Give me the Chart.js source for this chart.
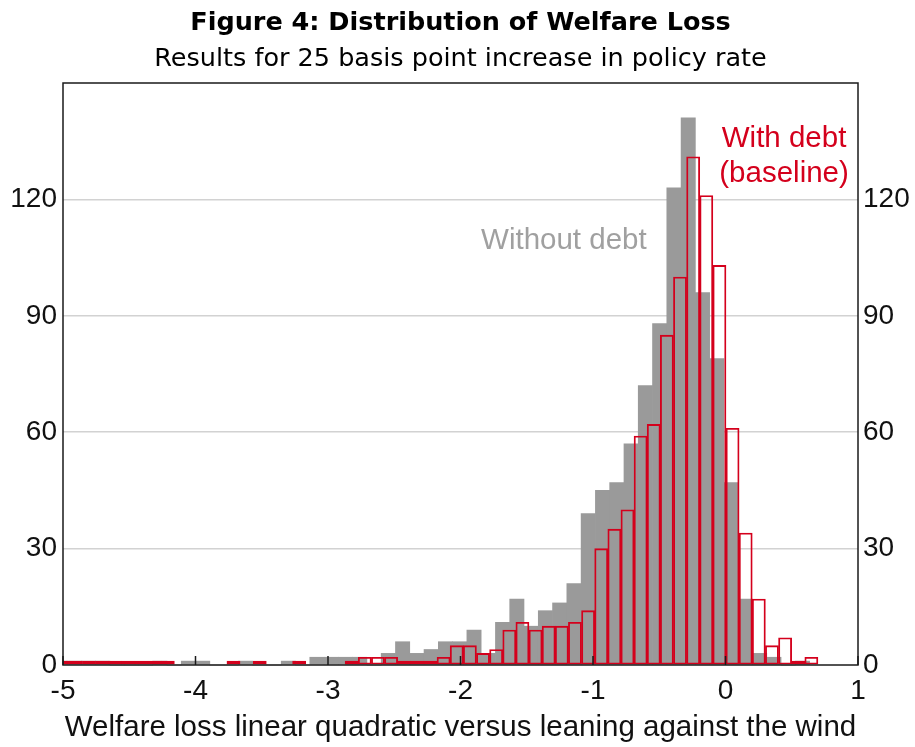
<!DOCTYPE html>
<html>
<head>
<meta charset="utf-8">
<title>Figure 4: Distribution of Welfare Loss</title>
<script src="https://cdn.jsdelivr.net/npm/chart.js@4.4.0/dist/chart.umd.min.js"></script>
<style>
  html, body { margin: 0; padding: 0; background: #fff; }
  #wrap { width: 915px; height: 747px; }
</style>
</head>
<body>
<div id="wrap"><canvas id="welfare-chart" width="915" height="747"></canvas></div>
<script>
'use strict';

// with debt (baseline) histogram: first bin left edge, bin width, counts
var withDebtStart = -5.0514;
var withDebtWidth = 0.09912;
var withDebtCounts = [1,1,1,1,1,1,1,1,1, 0,0,0,0, 1,0,1,0,0,1,0,0,0,
  1,2,2,2,1,1,1,2, 5,5,3,4,9,11,9,10,10,11,14,
  30,35,40,59,62,85,100,131,121,103, 61,34,17,5,7,1,2];

// without debt histogram
var withoutDebtStart = -5.0775;
var withoutDebtWidth = 0.10778;
var withoutDebtCounts = [1,1,1,1, 0,0,0, 1,0,1,1,0,0,1,0,0,1,0, 2,2,2,2, 0,
  3,6,3,4,6,6,9,3,11,17,10,14,16,21,39,45,47,57,72,88,123,141,96,79,47,17,3,2,0,1];

var xTicks = [-5, -4, -3, -2, -1, 0, 1];
var yTicks = [0, 30, 60, 90, 120];

var red = 'rgb(212, 0, 28)';
var grey = '#9a9a9a';
var armFont = "'Liberation Sans', Arial, sans-serif";

var notes = [
  { text: 'Without debt', x: -1.22, y: 109.3, color: '#a0a0a0' },
  { text: 'With debt', x: 0.442, y: 135.7, color: red },
  { text: '(baseline)', x: 0.442, y: 126.5, color: red }
];

function binPoints(start, width, counts) {
  var pts = [];
  for (var i = 0; i < counts.length; i++) {
    pts.push({ x: start + width * (i + 0.5), y: counts[i] });
  }
  return pts;
}

// plot frame, inward x tick marks and the series labels
var framePlugin = {
  id: 'frame',
  afterDatasetsDraw: function(chart) {
    var ctx = chart.ctx;
    var a = chart.chartArea;
    var xs = chart.scales.x;
    var ys = chart.scales.y;
    ctx.save();
    ctx.strokeStyle = '#1a1a1a';
    ctx.lineWidth = 1.5;
    for (var i = 0; i < xTicks.length; i++) {
      var px = xs.getPixelForValue(xTicks[i]);
      ctx.beginPath();
      ctx.moveTo(px, a.bottom);
      ctx.lineTo(px, a.bottom - 9);
      ctx.stroke();
    }
    ctx.strokeRect(a.left, a.top, a.right - a.left, a.bottom - a.top);

    ctx.font = '29.5px ' + armFont;
    ctx.textAlign = 'center';
    ctx.textBaseline = 'middle';
    for (var j = 0; j < notes.length; j++) {
      ctx.fillStyle = notes[j].color;
      ctx.fillText(notes[j].text, xs.getPixelForValue(notes[j].x), ys.getPixelForValue(notes[j].y));
    }
    ctx.restore();
  }
};

var tickLabel = function(value) {
  return yTicks.indexOf(value) >= 0 ? value : '';
};

var ctx = document.getElementById('welfare-chart');
var welfareChart = new Chart(ctx, {
  type: 'bar',
  data: {
    datasets: [
      {
        label: 'With debt (baseline)',
        data: binPoints(withDebtStart, withDebtWidth, withDebtCounts),
        xAxisID: 'x',
        yAxisID: 'y',
        backgroundColor: 'rgba(0,0,0,0)',
        borderColor: red,
        borderWidth: 1.2,
        borderSkipped: false,
        grouped: false,
        barPercentage: 1,
        categoryPercentage: 1,
        clip: { left: 0, right: 0, top: false, bottom: false }
      },
      {
        label: 'Without debt',
        data: binPoints(withoutDebtStart, withoutDebtWidth, withoutDebtCounts),
        xAxisID: 'x2',
        yAxisID: 'y',
        backgroundColor: grey,
        borderWidth: 0,
        grouped: false,
        barPercentage: 1,
        categoryPercentage: 1,
        clip: { left: 0, right: 0, top: false, bottom: false }
      }
    ]
  },
  options: {
    responsive: false,
    animation: false,
    events: [],
    layout: { padding: 0 },
    font: { family: armFont },
    scales: {
      x: {
        type: 'linear',
        position: 'bottom',
        min: -5,
        max: 1,
        offset: false,
        grid: { display: false, drawTicks: false },
        border: { display: false },
        ticks: {
          stepSize: 1,
          padding: 9,
          color: '#111',
          font: { family: armFont, size: 28 }
        },
        title: {
          display: true,
          text: 'Welfare loss linear quadratic versus leaning against the wind',
          color: '#111',
          font: { family: armFont, size: 29.5 },
          padding: { top: 0, bottom: 1.6 }
        },
        afterFit: function(scale) { scale.height = 82; }
      },
      x2: {
        type: 'linear',
        display: false,
        min: -5,
        max: 1,
        offset: false,
        ticks: { stepSize: 1 }
      },
      y: {
        position: 'left',
        min: 0,
        max: 150,
        grid: {
          drawTicks: false,
          lineWidth: 1.5,
          color: function(c) {
            var v = c.tick ? c.tick.value : 0;
            return (v > 0 && v < 150) ? '#d2d2d2' : 'rgba(0,0,0,0)';
          }
        },
        border: { display: false },
        ticks: {
          stepSize: 30,
          padding: 6,
          color: '#111',
          font: { family: armFont, size: 28 },
          callback: tickLabel
        },
        afterFit: function(scale) { scale.width = 63; }
      },
      y2: {
        position: 'right',
        min: 0,
        max: 150,
        grid: { display: false, drawTicks: false },
        border: { display: false },
        ticks: {
          stepSize: 30,
          padding: 5,
          color: '#111',
          font: { family: armFont, size: 28 },
          callback: tickLabel
        },
        afterFit: function(scale) { scale.width = 57; }
      }
    },
    plugins: {
      legend: { display: false },
      tooltip: { enabled: false },
      title: {
        display: true,
        fullSize: false,
        text: 'Figure 4: Distribution of Welfare Loss',
        color: '#000',
        font: { family: "'DejaVu Sans', Verdana, sans-serif", size: 25.5, weight: 'bold' },
        padding: { top: 7.7, bottom: 0 }
      },
      subtitle: {
        display: true,
        fullSize: false,
        text: 'Results for 25 basis point increase in policy rate',
        color: '#000',
        font: { family: "'DejaVu Sans', Verdana, sans-serif", size: 25.5 },
        padding: { top: 5.4, bottom: 8.7 }
      }
    }
  },
  plugins: [framePlugin]
});
</script>
</body>
</html>
